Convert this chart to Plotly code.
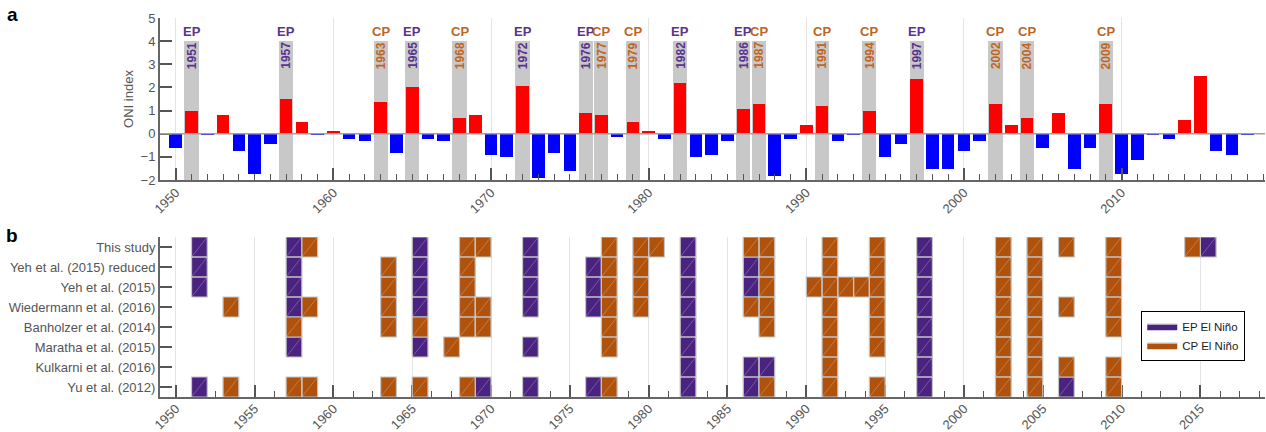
import plotly.graph_objects as go

# ---------------- data ----------------
years = list(range(1950, 2019))
oni = [-0.6, 1.0, -0.05, 0.8, -0.75, -1.75, -0.45, 1.5, 0.5, -0.05,
       0.12, -0.22, -0.32, 1.38, -0.83, 2.0, -0.22, -0.32, 0.68, 0.81,
       -0.93, -1.0, 2.08, -1.92, -0.83, -1.61, 0.9, 0.81, -0.13, 0.51,
       0.12, -0.22, 2.21, -1.0, -0.92, -0.31, 1.08, 1.29, -1.83, -0.22,
       0.38, 1.21, -0.31, -0.04, 0.99, -1.0, -0.44, 2.38, -1.54, -1.54,
       -0.74, -0.31, 1.29, 0.38, 0.68, -0.61, 0.9, -1.54, -0.61, 1.29,
       -1.74, -1.13, -0.04, -0.22, 0.61, 2.51, -0.74, -0.93, -0.04]

ep_years_a = [1951, 1957, 1965, 1972, 1976, 1982, 1986, 1997]
cp_years_a = [1963, 1968, 1977, 1979, 1987, 1991, 1994, 2002, 2004, 2009]

studies = ["This study", "Yeh et al. (2015) reduced", "Yeh et al. (2015)",
           "Wiedermann et al. (2016)", "Banholzer et al. (2014)",
           "Maratha et al. (2015)", "Kulkarni et al. (2016)", "Yu et al. (2012)"]

ep_by_study = [
    [1951, 1957, 1965, 1972, 1982, 1997, 2015],
    [1951, 1957, 1965, 1972, 1976, 1982, 1986, 1997],
    [1951, 1957, 1965, 1972, 1976, 1982, 1986, 1997],
    [1957, 1965, 1972, 1976, 1982, 1997],
    [1982, 1997],
    [1957, 1965, 1972, 1982, 1997],
    [1982, 1986, 1987, 1997],
    [1951, 1969, 1972, 1976, 1982, 1986, 1997, 2006],
]
cp_by_study = [
    [1958, 1968, 1969, 1977, 1979, 1980, 1986, 1987, 1991, 1994, 2002, 2004, 2006, 2009, 2014],
    [1963, 1968, 1977, 1979, 1987, 1991, 1994, 2002, 2004, 2009],
    [1963, 1968, 1977, 1979, 1987, 1990, 1991, 1992, 1993, 1994, 2002, 2004, 2009],
    [1953, 1958, 1963, 1968, 1969, 1977, 1979, 1986, 1987, 1991, 1994, 2002, 2004, 2006, 2009],
    [1957, 1963, 1965, 1968, 1969, 1977, 1987, 1991, 1994, 2002, 2004, 2009],
    [1967, 1977, 1991, 1994, 2002, 2004],
    [1991, 2002, 2004, 2006, 2009],
    [1953, 1957, 1958, 1963, 1965, 1968, 1977, 1987, 1991, 1994, 2002, 2004, 2009],
]

# ---------------- style ----------------
EP_CELL = "#4A2381"
CP_CELL = "#B0520B"
EP_TXT = "#5A3290"
CP_TXT = "#C0651F"
GRAY_BAR = "#C8C8C8"
AX = "#555555"
FONT = "Liberation Sans, Arial, sans-serif"
XR = [1949, 2019.1]

fig = go.Figure()

# ---- panel a ----
ev_years = ep_years_a + cp_years_a
fig.add_trace(go.Bar(x=ev_years, y=[6] * len(ev_years), base=[-2] * len(ev_years),
                     width=0.9, marker=dict(color=GRAY_BAR, line=dict(width=0)),
                     showlegend=False, hoverinfo="skip", xaxis="x", yaxis="y"))
fig.add_trace(go.Bar(x=years, y=oni, width=0.8,
                     marker=dict(color=["#FF0000" if v > 0 else "#0000FF" for v in oni],
                                 line=dict(width=0)),
                     showlegend=False, xaxis="x", yaxis="y"))

for yr_list, tcol, lab in [(ep_years_a, EP_TXT, "EP"), (cp_years_a, CP_TXT, "CP")]:
    for yr in yr_list:
        fig.add_annotation(x=yr, y=4.42, xref="x", yref="y", text="<b>%s</b>" % lab,
                           showarrow=False, xanchor="center", yanchor="middle",
                           font=dict(family=FONT, size=13, color=tcol))
        fig.add_annotation(x=yr, y=4.0, xref="x", yref="y", text="<b>%d</b>" % yr,
                           showarrow=False, textangle=-90, xanchor="center", yanchor="top",
                           font=dict(family=FONT, size=12, color=tcol),
                           borderpad=0)

fig.add_shape(type="line", xref="x domain", yref="y", x0=0, x1=1, y0=0, y1=0,
              line=dict(color="#A0A0A0", width=1.5), layer="above")

# ---- panel b ----
nrow = len(studies)
for name, data, col in [("EP El Niño", ep_by_study, EP_CELL), ("CP El Niño", cp_by_study, CP_CELL)]:
    px, py, dx, dy = [], [], [], []
    for i, yrs in enumerate(data):
        yc = nrow - 1 - i
        for yr in yrs:
            px += [yr, yr + 1, yr + 1, yr, yr, None]
            py += [yc - 0.5, yc - 0.5, yc + 0.5, yc + 0.5, yc - 0.5, None]
            dx += [yr, yr + 1, None]
            dy += [yc - 0.5, yc + 0.5, None]
    fig.add_trace(go.Scatter(x=px, y=py, mode="lines", fill="toself", fillcolor=col,
                             line=dict(color="#C4C4C4", width=1.2), name=name,
                             hoverinfo="skip", xaxis="x2", yaxis="y2"))
    fig.add_trace(go.Scatter(x=dx, y=dy, mode="lines",
                             line=dict(color="rgba(255,255,255,0.35)", width=0.7),
                             showlegend=False, hoverinfo="skip", xaxis="x2", yaxis="y2"))

tickfont = dict(family=FONT, size=13, color=AX)

fig.update_layout(
    width=1266, height=432,
    margin=dict(l=160, r=1, t=18, b=35, autoexpand=False),
    paper_bgcolor="white", plot_bgcolor="white",
    barmode="overlay", bargap=0,
    font=dict(family=FONT, size=13, color=AX),
    xaxis=dict(domain=[0, 1], anchor="y", range=XR, tick0=1950, dtick=10,
               tickangle=-45, ticks="inside", ticklen=12, tickwidth=1.5, tickcolor=AX,
               showline=True, linecolor="#666666", linewidth=2, automargin=False,
               showgrid=True, gridcolor="#E4E4E4", gridwidth=1, zeroline=False,
               tickfont=tickfont, ticklabelstandoff=-2,
               minor=dict(ticks="inside", ticklen=6, dtick=1, tick0=1950,
                          tickcolor=AX, tickwidth=1.2, showgrid=False)),
    yaxis=dict(domain=[0.5726, 1], anchor="x", range=[-2, 5], dtick=1,
               ticks="inside", ticklen=12, tickwidth=1.5, tickcolor=AX,
               showline=True, linecolor="#666666", linewidth=2, automargin=False,
               showgrid=False, zeroline=False, tickfont=tickfont,
               title=dict(text="ONI index", font=dict(family=FONT, size=13, color=AX), standoff=4)),
    xaxis2=dict(domain=[0, 1], anchor="y2", range=XR, tick0=1950, dtick=5,
                tickangle=-45, ticks="inside", ticklen=12, tickwidth=1.5, tickcolor=AX,
                showline=True, linecolor="#666666", linewidth=2, layer="below traces",
                automargin=False, ticklabelstandoff=-3,
                showgrid=True, gridcolor="#E4E4E4", gridwidth=1, zeroline=False,
                tickfont=tickfont,
                minor=dict(ticks="inside", ticklen=6, dtick=1.25, tick0=1950,
                           tickcolor=AX, tickwidth=1.2, showgrid=False)),
    yaxis2=dict(domain=[0, 0.4222], anchor="x2", range=[-0.5, nrow - 0.5],
                tickvals=list(range(nrow)), ticktext=studies[::-1],
                ticks="inside", ticklen=12, tickwidth=1.5, tickcolor=AX,
                showline=True, linecolor="#666666", linewidth=2, automargin=False,
                showgrid=False, zeroline=False, tickfont=tickfont),
    legend=dict(x=0.888, y=0.2277, xanchor="left", yanchor="top",
                bgcolor="white", bordercolor="black", borderwidth=1,
                font=dict(family=FONT, size=11.5, color="#222222"),
                tracegroupgap=0, itemwidth=30),
    annotations=list(fig.layout.annotations) + [
        dict(text="<b>a</b>", x=-0.1339, y=1.008, xref="paper", yref="paper",
             showarrow=False, xanchor="center", yanchor="middle",
             font=dict(family=FONT, size=19, color="black")),
        dict(text="<b>b</b>", x=-0.1339, y=0.427, xref="paper", yref="paper",
             showarrow=False, xanchor="center", yanchor="middle",
             font=dict(family=FONT, size=19, color="black")),
    ],
)

# remove the default page margin so the figure fills the window exactly
fig.write_html("out.html",
               config={"displayModeBar": False},
               post_script="document.body.style.margin='0';document.body.style.overflow='hidden';")
